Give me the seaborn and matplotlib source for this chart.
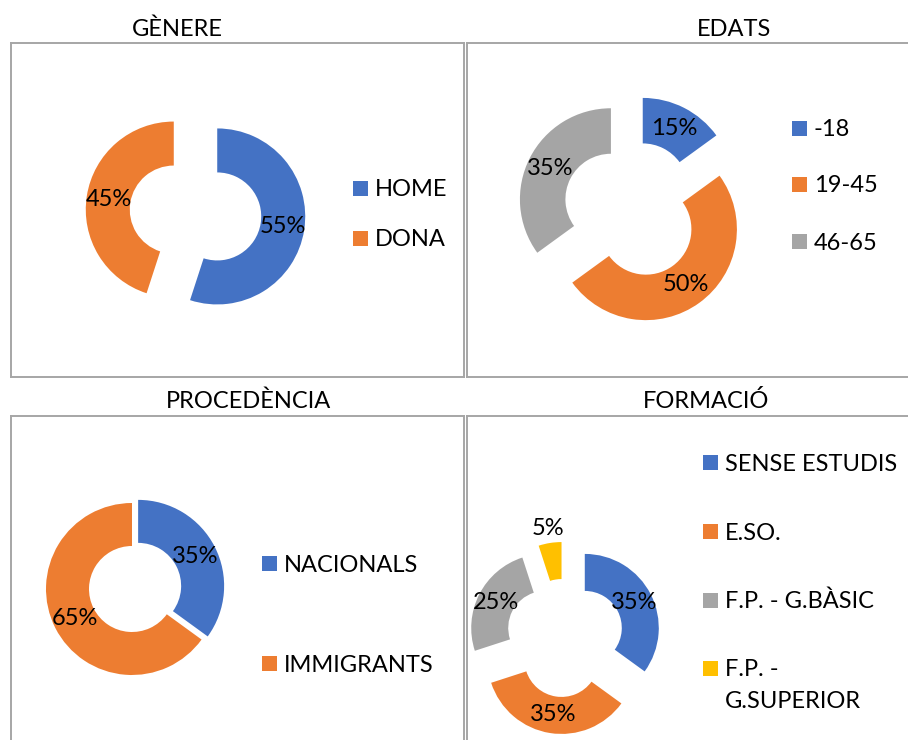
import matplotlib.pyplot as plt
from matplotlib.patches import Rectangle
import seaborn as sns

sns.set_theme(style="white")
plt.rcParams["font.family"] = ["Lato", "DejaVu Sans"]

# Office palette used by the original spreadsheet charts
office = sns.color_palette(["#4472C4", "#ED7D31", "#A5A5A5", "#FFC000"])

genere_labels = ["HOME", "DONA"]
genere_values = [55, 45]

edats_labels = ["-18", "19-45", "46-65"]
edats_values = [15, 50, 35]

procedencia_labels = ["NACIONALS", "IMMIGRANTS"]
procedencia_values = [35, 65]

formacio_labels = ["SENSE ESTUDIS", "E.SO.", "F.P. - G.BÀSIC", "F.P. -\nG.SUPERIOR"]
formacio_values = [35, 35, 25, 5]

W, H = 908, 740
FS = 17
HALF_CAP = 8.5  # px, to centre capitals on a given y
fig = plt.figure(figsize=(W / 100, H / 100), dpi=100)


def px_rect(x0, y0, x1, y1):
    return [x0 / W, 1 - y1 / H, (x1 - x0) / W, (y1 - y0) / H]


def draw_panel(box, title, title_x, title_y, values, labels, center, radius,
               explode, legend_x, legend_y):
    """Doughnut in a grey box; axes data units are screen pixels (y up)."""
    x0, y0, x1, y1 = box
    ax = fig.add_axes(px_rect(x0, y0, x1, y1))
    colors = office[:len(values)]
    wedges, _, autotexts = ax.pie(
        values, colors=colors, startangle=90, counterclock=False,
        center=(center[0], H - center[1]), radius=radius,
        explode=[e * radius for e in explode],
        wedgeprops=dict(width=0.5 * radius, linewidth=0),
        autopct="%1.0f%%", pctdistance=0.75,
        textprops=dict(fontsize=FS, color="black"), frame=True)

    # tiny slices get their label pushed outside the ring
    total = sum(values)
    for w, t, v in zip(wedges, autotexts, values):
        if v / total < 0.1:
            cx, cy = w.center
            tx, ty = t.get_position()
            k = 1.2 / 0.75
            t.set_position((cx + (tx - cx) * k, cy + (ty - cy) * k))

    ax.set_xlim(x0, x1)
    ax.set_ylim(H - y1, H - y0)
    ax.set_aspect("auto")
    ax.set_xticks([])
    ax.set_yticks([])
    for s in ax.spines.values():
        s.set_color("#a6a6a6")
        s.set_linewidth(1.4)

    # legend: square swatch + text, one line every 32 px for wrapped labels
    for lab, col, ly in zip(labels, colors, legend_y):
        ax.add_patch(Rectangle((legend_x, H - ly - 7.5), 15, 15, color=col, lw=0))
        for i, line in enumerate(lab.split("\n")):
            ax.text(legend_x + 22, H - (ly + i * 32) - HALF_CAP, line, fontsize=FS,
                    ha="left", va="baseline", color="black")

    fig.text(title_x / W, 1 - (title_y + HALF_CAP) / H, title, fontsize=FS,
             ha="center", va="baseline", color="black")
    return ax


draw_panel((11, 43, 464, 377), "GÈNERE", 177, 27, genere_values, genere_labels,
           (195.5, 213), 88, [0.25, 0.25], 353, [188, 238])
draw_panel((467, 43, 930, 377), "EDATS", 734, 27, edats_values, edats_labels,
           (632, 210), 91, [0.26, 0.26, 0.26], 792, [128, 184, 241])
draw_panel((11, 416, 464, 760), "PROCEDÈNCIA", 248, 399, procedencia_values,
           procedencia_labels, (132, 589), 86, [0.08, 0.0], 262, [563, 663])
draw_panel((467, 416, 930, 760), "FORMACIÓ", 706, 399, formacio_values,
           formacio_labels, (565, 638), 74, [0.3, 0.3, 0.3, 0.3], 703,
           [463, 531, 600, 668])

plt.savefig("out.png", dpi=100)
